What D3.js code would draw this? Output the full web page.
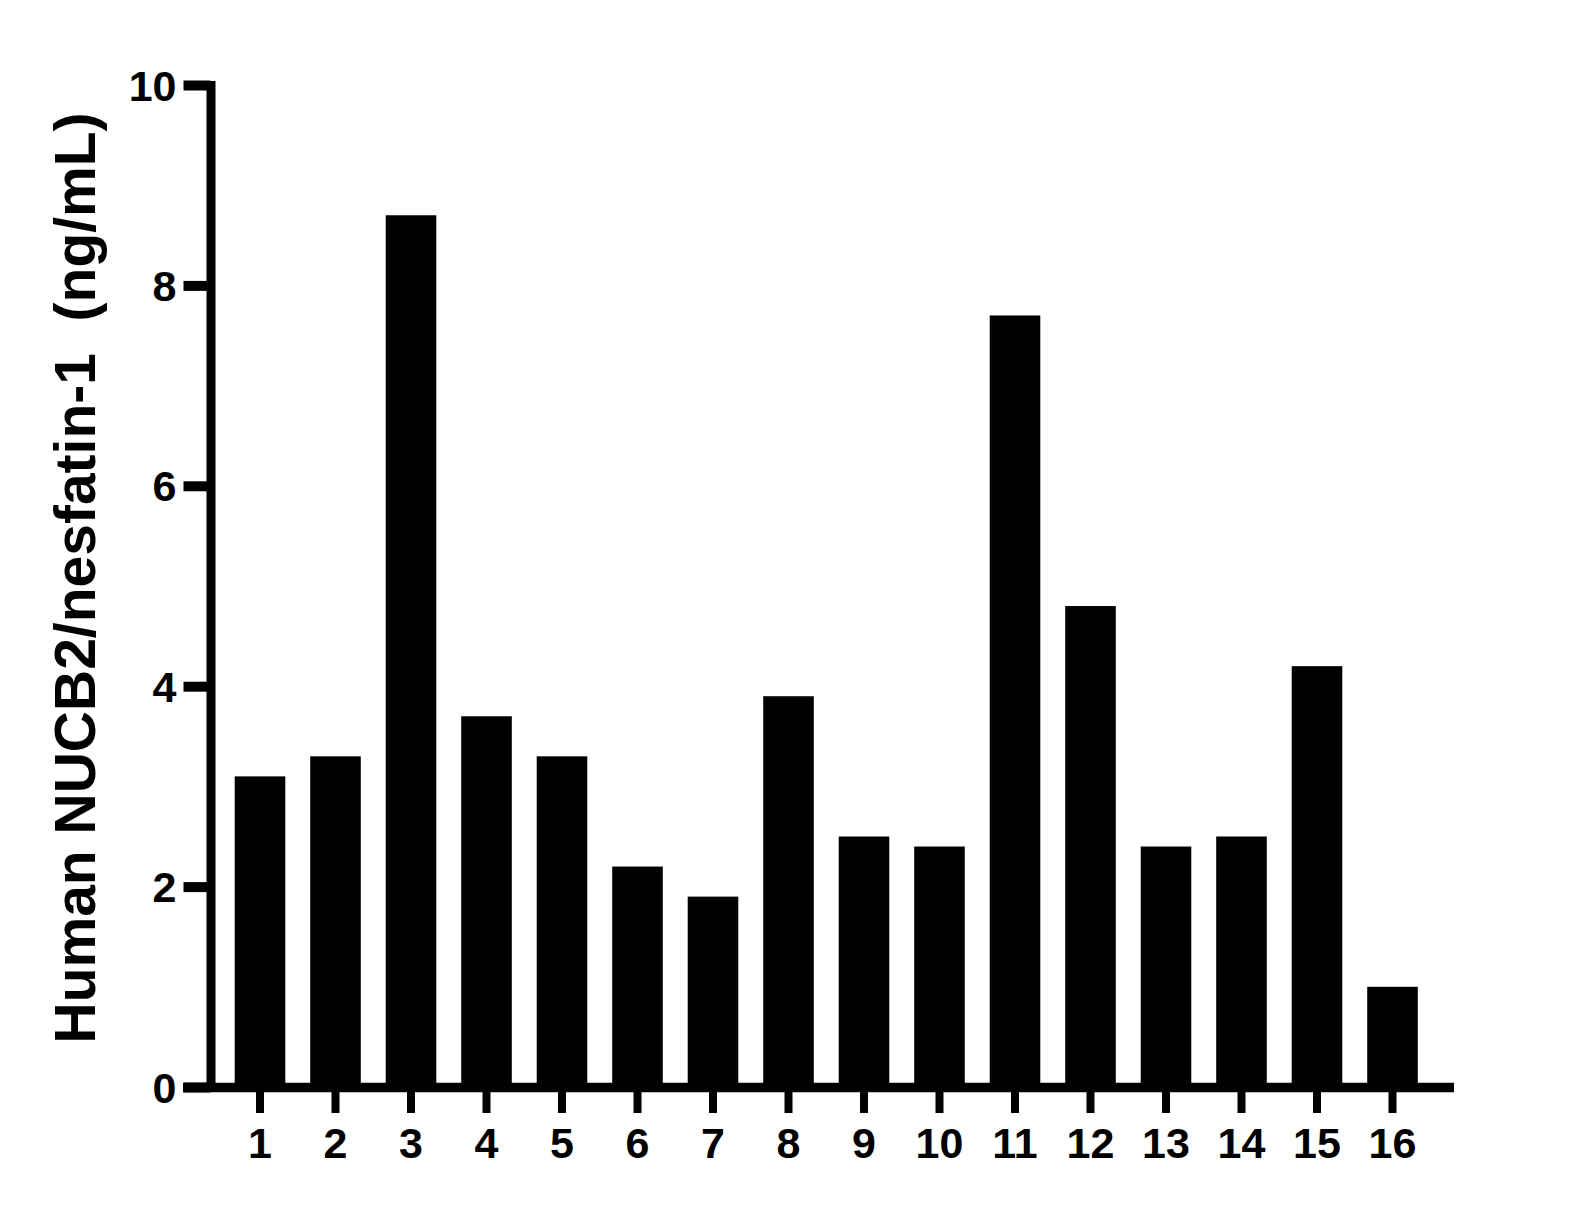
<!DOCTYPE html>
<html>
<head>
<meta charset="utf-8">
<script src="https://cdn.jsdelivr.net/npm/d3@7"></script>
<style>
  html, body { margin: 0; padding: 0; background: #fff; }
  svg { display: block; }
  text { font-family: "Liberation Sans", Arial, sans-serif; font-weight: bold; fill: #000; }
</style>
</head>
<body>
<svg id="chart" width="1584" height="1209"></svg>
<script>
const categories = ["1","2","3","4","5","6","7","8","9","10","11","12","13","14","15","16"];
const values = [3.1, 3.3, 8.7, 3.7, 3.3, 2.2, 1.9, 3.9, 2.5, 2.4, 7.7, 4.8, 2.4, 2.5, 4.2, 1.0];
const yTicks = [0, 2, 4, 6, 8, 10];
const yTitle = "Human NUCB2/nesfatin-1  (ng/mL)";

const svg = d3.select("#chart");

const y = d3.scaleLinear().domain([0, 10]).range([1087, 85]);
const x = d3.scaleBand().domain(categories).range([222.25, 1430.25])
  .paddingInner(0.33).paddingOuter(0.165);

const axisX0 = 210.5;

// bars
svg.append("g").selectAll("rect").data(values).join("rect")
  .attr("x", (d, i) => x(categories[i]))
  .attr("width", x.bandwidth())
  .attr("y", d => y(d))
  .attr("height", d => y(0) - y(d))
  .attr("fill", "#000");

// y axis
const gy = svg.append("g").attr("transform", `translate(${axisX0},0)`)
  .call(d3.axisLeft(y).tickValues(yTicks).tickFormat(d3.format("d")).tickSize(27).tickSizeOuter(0).tickPadding(7));
gy.select(".domain").attr("stroke", "#000").attr("stroke-width", 9).attr("stroke-linecap", "square");
gy.selectAll(".tick line").attr("stroke", "#000").attr("stroke-width", 10);
gy.selectAll(".tick text").style("font-size", "43px").attr("dy", "0.35em");

// x axis baseline
svg.append("line")
  .attr("x1", 183).attr("x2", 1454)
  .attr("y1", y(0) + 0.5).attr("y2", y(0) + 0.5)
  .attr("stroke", "#000").attr("stroke-width", 9.5);

// x axis ticks
const gx = svg.append("g").attr("transform", `translate(0,${y(0)})`)
  .call(d3.axisBottom(x).tickSize(26).tickSizeOuter(0).tickPadding(14));
gx.select(".domain").remove();
gx.selectAll(".tick line").attr("stroke", "#000").attr("stroke-width", 8);
gx.selectAll(".tick text").style("font-size", "43px").attr("dy", "0.71em");

// y title
svg.append("text")
  .attr("transform", `translate(95,578) rotate(-90)`)
  .attr("text-anchor", "middle")
  .style("font-size", "57px")
  .style("white-space", "pre")
  .attr("xml:space", "preserve")
  .text(yTitle);
</script>
</body>
</html>
